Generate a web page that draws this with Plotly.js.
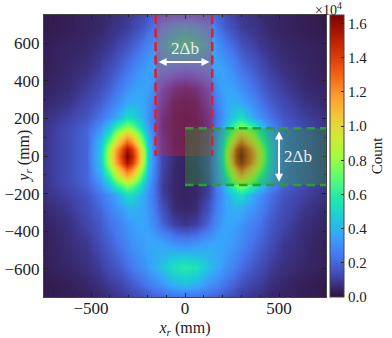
<!DOCTYPE html>
<html>
<head>
<meta charset="utf-8">
<script src="https://cdn.plot.ly/plotly-3.0.1.min.js"></script>
<style>html,body{margin:0;padding:0;background:#fff}</style>
</head>
<body>
<div id="plotArea" style="width:392px;height:338px"></div>
<script>
const xCenters = [-750,-620,-520,-450,-400,-365,-335,-310,-280,-250,-220,-195,-170,-120,-60,0,60,120,170,195,220,250,275,300,330,365,400,450,520,620,750];
const yCenters = [-750,-680,-590,-470,-360,-280,-210,-155,-110,-70,-35,0,35,70,110,155,210,280,360,470,590,680,750];
// counts in units of 1e4, bottom row first
const counts = [
[.02,.03,.04,.05,.07,.08,.09,.10,.12,.13,.15,.16,.18,.20,.22,.22,.22,.20,.18,.16,.15,.13,.12,.10,.09,.08,.07,.05,.04,.03,.02],
[.02,.03,.05,.07,.10,.11,.13,.15,.17,.20,.23,.25,.28,.32,.40,.43,.40,.32,.28,.25,.23,.20,.17,.15,.13,.11,.10,.07,.05,.03,.02],
[.03,.05,.07,.10,.14,.16,.19,.22,.25,.28,.31,.34,.37,.44,.54,.58,.54,.44,.37,.34,.31,.28,.25,.22,.19,.16,.14,.10,.07,.05,.03],
[.03,.06,.09,.14,.19,.22,.25,.28,.31,.33,.35,.37,.37,.36,.32,.30,.32,.36,.37,.37,.35,.33,.31,.28,.25,.22,.19,.14,.09,.06,.03],
[.04,.07,.12,.17,.23,.26,.29,.32,.34,.36,.36,.34,.30,.20,.11,.08,.11,.20,.30,.34,.36,.36,.34,.32,.29,.26,.23,.17,.12,.07,.04],
[.05,.09,.14,.20,.27,.31,.34,.38,.39,.38,.36,.32,.27,.15,.06,.05,.06,.15,.27,.32,.36,.38,.39,.38,.34,.31,.27,.20,.14,.09,.05],
[.07,.11,.16,.23,.31,.36,.44,.52,.50,.44,.37,.31,.25,.11,.05,.04,.05,.11,.25,.31,.37,.44,.50,.52,.44,.36,.31,.23,.16,.11,.07],
[.08,.13,.19,.30,.46,.60,.70,.78,.72,.60,.44,.34,.26,.10,.05,.04,.05,.10,.26,.34,.44,.60,.72,.78,.70,.60,.46,.30,.19,.13,.08],
[.08,.14,.20,.36,.60,.82,.98,1.10,1.02,.80,.56,.39,.28,.11,.05,.04,.05,.11,.28,.39,.56,.80,1.02,1.10,.98,.82,.60,.36,.20,.14,.08],
[.08,.14,.20,.41,.76,1.0,1.18,1.32,1.22,.98,.68,.44,.29,.12,.05,.04,.05,.12,.29,.44,.68,.98,1.22,1.32,1.18,1.0,.76,.41,.20,.14,.08],
[.08,.14,.20,.43,.88,1.15,1.36,1.56,1.42,1.14,.78,.47,.30,.12,.06,.04,.06,.12,.30,.47,.78,1.14,1.42,1.56,1.36,1.15,.88,.43,.20,.14,.08],
[.08,.14,.20,.44,.92,1.2,1.42,1.65,1.5,1.2,.82,.48,.30,.12,.06,.04,.06,.12,.30,.48,.82,1.2,1.5,1.65,1.42,1.2,.92,.44,.20,.14,.08],
[.08,.14,.20,.43,.88,1.15,1.36,1.56,1.42,1.14,.78,.47,.30,.12,.06,.04,.06,.12,.30,.47,.78,1.14,1.42,1.56,1.36,1.15,.88,.43,.20,.14,.08],
[.08,.14,.20,.41,.76,1.0,1.18,1.32,1.22,.98,.68,.44,.29,.12,.05,.04,.05,.12,.29,.44,.68,.98,1.22,1.32,1.18,1.0,.76,.41,.20,.14,.08],
[.08,.14,.20,.36,.60,.82,.98,1.10,1.02,.80,.56,.39,.28,.11,.05,.04,.05,.11,.28,.39,.56,.80,1.02,1.10,.98,.82,.60,.36,.20,.14,.08],
[.08,.13,.19,.30,.46,.60,.70,.78,.72,.60,.44,.34,.26,.10,.05,.04,.05,.10,.26,.34,.44,.60,.72,.78,.70,.60,.46,.30,.19,.13,.08],
[.07,.11,.16,.23,.31,.36,.44,.52,.50,.44,.37,.31,.25,.11,.05,.04,.05,.11,.25,.31,.37,.44,.50,.52,.44,.36,.31,.23,.16,.11,.07],
[.05,.08,.13,.18,.24,.29,.33,.37,.39,.39,.36,.32,.27,.15,.06,.05,.06,.15,.27,.32,.36,.39,.39,.37,.33,.29,.24,.18,.13,.08,.05],
[.04,.06,.10,.14,.19,.23,.27,.30,.33,.35,.36,.35,.31,.20,.11,.08,.11,.20,.31,.35,.36,.35,.33,.30,.27,.23,.19,.14,.10,.06,.04],
[.03,.05,.07,.10,.14,.17,.20,.23,.26,.30,.33,.35,.36,.36,.32,.30,.32,.36,.36,.35,.33,.30,.26,.23,.20,.17,.14,.10,.07,.05,.03],
[.03,.04,.05,.07,.09,.11,.13,.15,.18,.21,.25,.28,.31,.44,.54,.58,.54,.44,.31,.28,.25,.21,.18,.15,.13,.11,.09,.07,.05,.04,.03],
[.02,.03,.04,.05,.07,.08,.09,.10,.12,.14,.17,.20,.24,.36,.42,.45,.42,.36,.24,.20,.17,.14,.12,.10,.09,.08,.07,.05,.04,.03,.02],
[.02,.03,.04,.05,.06,.07,.08,.09,.10,.12,.14,.16,.19,.23,.25,.25,.25,.23,.19,.16,.14,.12,.10,.09,.08,.07,.06,.05,.04,.03,.02]
];
const colorbarTicks = [0,0.2,0.4,0.6,0.8,1.0,1.2,1.4,1.6];
const colorbarLabels = ['0.0','0.2','0.4','0.6','0.8','1.0','1.2','1.4','1.6'];

const turbo = ['#30123b','#4145ab','#4675ed','#39a2fc','#1bcfd4','#24eca6','#61fc6c','#a4fc3b','#d1e834','#f3c63a','#fe9b2d','#f36315','#d93806','#b11901','#7a0402'];
const colorscale = turbo.map((c, i) => [i / (turbo.length - 1), c]);

const serif = '"Liberation Serif", "DejaVu Serif", serif';
const ink = '#222';

const data = [{
    type: 'heatmap',
    x: xCenters,
    y: yCenters,
    z: counts,
    zmin: 0,
    zmax: 1.65,
    zsmooth: 'best',
    colorscale: colorscale,
    colorbar: {
        thicknessmode: 'pixels', thickness: 14,
        lenmode: 'fraction', len: 1,
        x: 1.014, xanchor: 'left', xpad: 0, ypad: 0,
        y: 0.5, yanchor: 'middle',
        outlinecolor: '#444', outlinewidth: 1,
        ticks: 'inside', ticklen: 3, tickcolor: ink,
        tickvals: colorbarTicks, ticktext: colorbarLabels,
        tickfont: {family: serif, size: 15, color: ink},
        title: {text: 'Count', side: 'right', font: {family: serif, size: 15, color: ink}}
    }
}];

function axis(tickStep, minorStep) {
    return {
        range: [-750, 750],
        dtick: tickStep,
        ticks: 'inside', ticklen: 4, tickcolor: ink, tickwidth: 1,
        minor: {dtick: minorStep, ticks: 'inside', ticklen: 2, tickcolor: ink},
        mirror: 'allticks',
        showline: true, linecolor: '#444', linewidth: 1,
        showgrid: false, zeroline: false,
        tickfont: {family: serif, size: 17, color: ink}
    };
}

const redLine = {color: '#dc2030', width: 2.5, dash: '9px,4.5px'};
const greenLine = {color: '#2ca02c', width: 2.5, dash: '8.5px,5px'};

const xaxis = axis(500, 100);
xaxis.ticklabelstandoff = -4;
xaxis.title = {text: '<i>x<sub>r</sub></i> (mm)', standoff: 6, font: {family: serif, size: 16, color: ink}};

const layout = {
    width: 392,
    height: 338,
    margin: {l: 44, r: 66, t: 15, b: 41, autoexpand: false},
    paper_bgcolor: '#fff',
    xaxis: xaxis,
    yaxis: axis(200, 100),
    shapes: [
        {type: 'rect', x0: -157, x1: 145, y0: 0, y1: 750, fillcolor: 'rgba(220,30,50,0.35)', line: {width: 0}},
        {type: 'rect', x0: 0, x1: 750, y0: -154, y1: 148, fillcolor: 'rgba(44,160,44,0.36)', line: {width: 0}},
        {type: 'line', x0: -157, x1: -157, y0: 750, y1: 0, line: redLine},
        {type: 'line', x0: 145, x1: 145, y0: 750, y1: 0, line: redLine},
        {type: 'line', x0: 0, x1: 750, y0: 148, y1: 148, line: greenLine},
        {type: 'line', x0: 0, x1: 750, y0: -154, y1: -154, line: greenLine}
    ],
    annotations: [
        {x: 130, y: 500, ax: -148, ay: 500, axref: 'x', ayref: 'y', text: '', showarrow: true, arrowside: 'end+start', arrowhead: 2, arrowsize: 0.8, arrowwidth: 2, arrowcolor: '#fff'},
        {x: 500, y: 130, ax: 500, ay: -145, axref: 'x', ayref: 'y', text: '', showarrow: true, arrowside: 'end+start', arrowhead: 2, arrowsize: 0.8, arrowwidth: 2, arrowcolor: '#fff'},
        {x: 0, y: 570, text: '2Δb', showarrow: false, font: {family: serif, size: 17, color: '#eee'}},
        {x: 600, y: 0, text: '2Δb', showarrow: false, font: {family: serif, size: 17, color: '#eee'}},
        {xref: 'paper', yref: 'paper', x: -0.113, y: 0.5, text: '<i>y<sub>r</sub></i> (mm)', textangle: -90, showarrow: false, font: {family: serif, size: 16, color: ink}},
        {xref: 'paper', yref: 'paper', x: 1.065, y: 1.0, yanchor: 'bottom', yshift: -5, text: '×10<sup>4</sup>', showarrow: false, font: {family: serif, size: 14, color: ink}}
    ]
};

Plotly.newPlot('plotArea', data, layout, {displayModeBar: false, staticPlot: true});
</script>
</body>
</html>
